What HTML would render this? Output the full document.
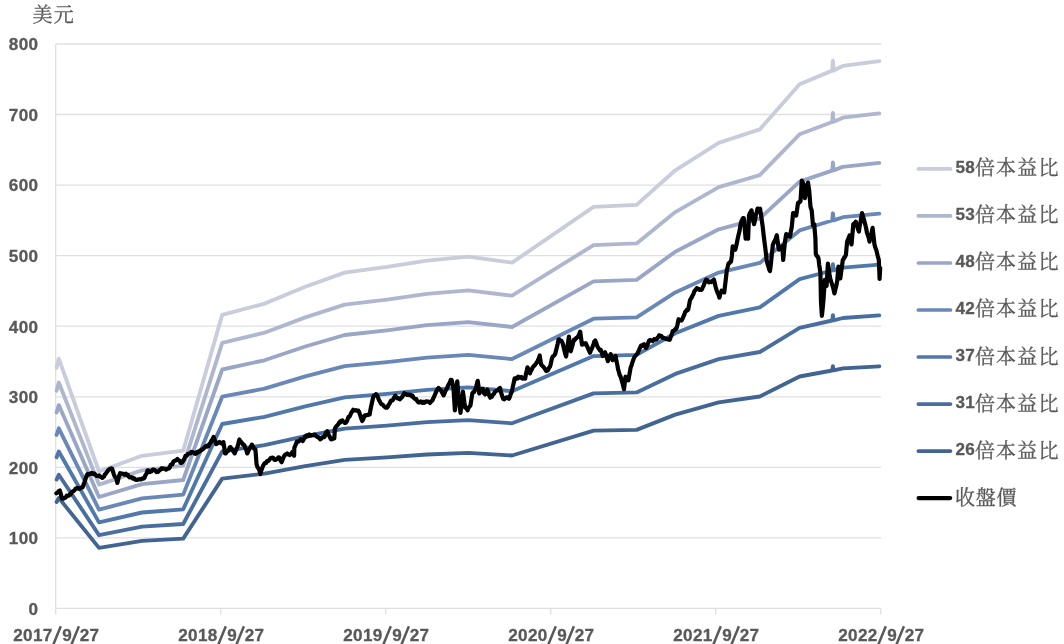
<!DOCTYPE html>
<html><head><meta charset="utf-8"><title>P/E band chart</title>
<style>
html,body{margin:0;padding:0;background:#fff;}
body{width:1064px;height:644px;overflow:hidden;position:relative;font-family:"Liberation Sans",sans-serif;}
</style></head><body>
<svg width="1064" height="644" viewBox="0 0 1064 644" style="position:absolute;left:0;top:0;will-change:transform;filter:blur(0.35px)">
<line x1="55.7" x2="881.2" y1="537.9" y2="537.9" stroke="#e0e0e0" stroke-width="1.3"/>
<line x1="55.7" x2="881.2" y1="467.3" y2="467.3" stroke="#e0e0e0" stroke-width="1.3"/>
<line x1="55.7" x2="881.2" y1="396.8" y2="396.8" stroke="#e0e0e0" stroke-width="1.3"/>
<line x1="55.7" x2="881.2" y1="326.2" y2="326.2" stroke="#e0e0e0" stroke-width="1.3"/>
<line x1="55.7" x2="881.2" y1="255.6" y2="255.6" stroke="#e0e0e0" stroke-width="1.3"/>
<line x1="55.7" x2="881.2" y1="185.1" y2="185.1" stroke="#e0e0e0" stroke-width="1.3"/>
<line x1="55.7" x2="881.2" y1="114.5" y2="114.5" stroke="#e0e0e0" stroke-width="1.3"/>
<line x1="55.7" x2="881.2" y1="44.0" y2="44.0" stroke="#e0e0e0" stroke-width="1.3"/>
<line x1="55.7" x2="55.7" y1="44.0" y2="608.4" stroke="#e0e0e0" stroke-width="1.3"/>
<line x1="55.7" x2="881.2" y1="608.4" y2="608.4" stroke="#e0e0e0" stroke-width="1.3"/>
<line x1="55.7" x2="55.7" y1="608.4" y2="614.6" stroke="#e0e0e0" stroke-width="1.3"/>
<line x1="220.7" x2="220.7" y1="608.4" y2="614.6" stroke="#e0e0e0" stroke-width="1.3"/>
<line x1="385.7" x2="385.7" y1="608.4" y2="614.6" stroke="#e0e0e0" stroke-width="1.3"/>
<line x1="550.7" x2="550.7" y1="608.4" y2="614.6" stroke="#e0e0e0" stroke-width="1.3"/>
<line x1="715.7" x2="715.7" y1="608.4" y2="614.6" stroke="#e0e0e0" stroke-width="1.3"/>
<line x1="880.7" x2="880.7" y1="608.4" y2="614.6" stroke="#e0e0e0" stroke-width="1.3"/>
<polyline points="56.6,367.8 58.8,358.7 99.0,471.5 142.0,455.8 183.2,450.7 222.2,314.9 264.5,303.6 305.3,286.7 344.7,272.6 387.0,266.9 427.0,260.6 468.3,256.7 512.0,262.7 593.6,206.8 636.6,204.9 675.3,170.3 718.7,142.8 759.8,129.4 799.6,84.2 832.2,70.6 832.9,60.6 833.6,70.5 842.9,65.9 879.3,61.1" fill="none" stroke="#c8ccdb" stroke-width="3.85" stroke-linejoin="round" stroke-linecap="round"/>
<polyline points="56.6,390.8 58.8,382.5 99.0,484.6 142.0,470.4 183.2,465.7 222.2,342.9 264.5,332.7 305.3,317.4 344.7,304.7 387.0,299.6 427.0,293.8 468.3,290.3 512.0,295.7 593.6,245.1 636.6,243.4 675.3,212.1 718.7,187.2 759.8,175.1 799.6,134.3 832.2,122.0 832.9,112.9 833.6,121.8 842.9,117.7 879.3,113.4" fill="none" stroke="#aeb7cf" stroke-width="3.85" stroke-linejoin="round" stroke-linecap="round"/>
<polyline points="56.6,412.5 58.8,405.1 99.0,497.0 142.0,484.2 183.2,480.0 222.2,369.5 264.5,360.3 305.3,346.5 344.7,335.0 387.0,330.4 427.0,325.2 468.3,322.1 512.0,327.0 593.6,281.4 636.6,279.9 675.3,251.7 718.7,229.3 759.8,218.4 799.6,181.6 832.2,170.6 832.9,162.4 833.6,170.4 842.9,166.8 879.3,162.9" fill="none" stroke="#9aa6c6" stroke-width="3.85" stroke-linejoin="round" stroke-linecap="round"/>
<polyline points="56.6,434.9 58.8,428.3 99.0,509.7 142.0,498.3 183.2,494.6 222.2,396.7 264.5,388.6 305.3,376.4 344.7,366.2 387.0,362.1 427.0,357.6 468.3,354.8 512.0,359.1 593.6,318.7 636.6,317.4 675.3,292.4 718.7,272.6 759.8,262.9 799.6,230.4 832.2,220.5 832.9,213.3 833.6,220.4 842.9,217.2 879.3,213.7" fill="none" stroke="#6988b7" stroke-width="3.85" stroke-linejoin="round" stroke-linecap="round"/>
<polyline points="56.6,457.3 58.8,451.5 99.0,522.4 142.0,512.5 183.2,509.3 222.2,424.0 264.5,416.9 305.3,406.3 344.7,397.4 387.0,393.9 427.0,389.9 468.3,387.4 512.0,391.2 593.6,356.1 636.6,354.9 675.3,333.2 718.7,315.9 759.8,307.4 799.6,279.1 832.2,270.5 832.9,264.2 833.6,270.4 842.9,267.6 879.3,264.6" fill="none" stroke="#5078ab" stroke-width="3.85" stroke-linejoin="round" stroke-linecap="round"/>
<polyline points="56.6,479.6 58.8,474.7 99.0,535.1 142.0,526.7 183.2,524.0 222.2,451.3 264.5,445.2 305.3,436.2 344.7,428.6 387.0,425.6 427.0,422.2 468.3,420.1 512.0,423.3 593.6,393.4 636.6,392.4 675.3,373.9 718.7,359.1 759.8,352.0 799.6,327.8 832.2,320.5 832.9,315.1 833.6,320.4 842.9,318.0 879.3,315.4" fill="none" stroke="#496d9e" stroke-width="3.85" stroke-linejoin="round" stroke-linecap="round"/>
<polyline points="56.6,502.0 58.8,497.9 99.0,547.9 142.0,540.9 183.2,538.6 222.2,478.6 264.5,473.6 305.3,466.1 344.7,459.8 387.0,457.3 427.0,454.5 468.3,452.8 512.0,455.5 593.6,430.7 636.6,429.9 675.3,414.6 718.7,402.4 759.8,396.5 799.6,376.5 832.2,370.5 832.9,366.1 833.6,370.4 842.9,368.4 879.3,366.3" fill="none" stroke="#426491" stroke-width="3.85" stroke-linejoin="round" stroke-linecap="round"/>
<polyline points="56.4,493.3 57.2,492.8 58.1,491.9 58.9,491.0 59.8,490.5 60.9,494.2 62.0,498.7 62.8,498.7 63.6,498.6 64.4,498.0 65.2,497.6 66.0,497.1 66.7,495.7 67.5,496.0 68.3,495.8 69.1,495.5 69.9,494.1 70.7,494.3 71.5,492.3 72.2,491.8 73.0,491.5 73.8,490.7 74.6,490.2 75.3,489.0 76.1,488.4 76.9,488.5 77.7,487.9 78.5,488.7 79.3,488.5 80.2,488.7 81.0,487.8 81.8,487.2 82.6,487.3 83.5,484.6 84.4,482.5 85.2,480.0 86.1,477.2 87.0,474.8 87.8,474.0 88.5,474.6 89.3,473.9 90.1,473.9 90.9,473.9 91.6,472.8 92.4,473.2 93.3,474.2 94.1,473.5 95.0,474.2 95.8,475.0 96.7,475.9 97.5,476.0 98.3,476.1 99.2,475.5 100.0,476.4 100.8,476.9 101.7,477.4 102.5,477.9 103.3,477.0 104.1,476.4 104.9,474.4 105.7,473.8 106.5,472.6 107.3,471.5 108.1,470.3 109.0,469.5 109.8,468.9 110.6,469.2 111.4,468.3 112.2,468.8 112.9,471.2 113.7,473.9 114.4,475.8 115.2,477.0 116.3,478.3 117.4,482.9 118.3,478.9 119.2,475.5 120.1,473.2 120.9,473.8 121.8,473.7 122.6,473.7 123.5,473.9 124.3,474.6 125.2,474.5 126.0,473.7 126.9,475.1 127.8,474.8 128.6,476.4 129.5,477.4 130.4,477.5 131.2,477.2 132.0,477.5 132.8,478.5 133.5,477.9 134.3,478.5 135.1,479.6 135.9,479.7 136.7,480.0 137.5,479.9 138.2,479.4 139.0,479.3 139.8,479.4 140.6,479.0 141.4,479.3 142.2,478.5 142.9,478.1 143.7,478.5 144.5,477.9 145.2,475.7 146.0,474.5 146.8,473.2 147.5,470.4 148.3,470.4 149.2,471.1 150.0,472.0 150.8,471.1 151.6,471.3 152.3,469.9 153.1,469.5 153.9,469.6 154.7,469.9 155.6,471.0 156.4,472.1 157.2,472.0 158.0,471.9 158.9,470.9 159.7,470.1 160.6,469.6 161.4,468.4 162.2,468.6 162.9,468.8 163.7,468.6 164.5,468.9 165.2,469.0 166.0,469.7 166.8,469.3 167.6,468.7 168.3,468.4 169.1,468.4 169.9,467.0 170.7,464.8 171.5,464.3 172.4,464.4 173.2,462.0 174.1,461.0 174.9,460.8 175.7,460.5 176.6,459.9 177.4,459.1 178.2,459.9 178.9,460.6 179.7,460.8 180.5,462.7 181.2,462.9 182.0,462.7 182.8,461.4 183.7,459.9 184.5,458.6 185.4,455.9 186.2,456.0 187.1,455.3 187.9,454.0 188.8,453.6 189.7,453.5 190.5,453.2 191.4,451.9 192.2,452.0 193.0,452.4 193.9,452.8 194.7,453.6 195.5,453.9 196.3,452.4 197.1,452.9 198.0,451.7 198.8,451.8 199.6,451.4 200.4,450.4 201.2,450.5 201.9,449.6 202.7,449.0 203.5,448.6 204.2,447.8 205.0,447.0 205.8,446.2 206.7,446.7 207.6,445.5 208.5,446.2 209.4,444.1 210.2,443.3 211.1,441.4 211.9,440.0 212.8,438.8 213.6,436.9 214.5,439.8 215.3,441.2 216.2,444.1 217.0,443.6 217.8,443.0 218.6,442.6 219.4,442.0 220.2,443.0 221.0,443.1 221.8,443.5 222.6,442.4 223.4,442.1 224.2,447.2 225.0,453.4 225.8,453.4 226.6,451.6 227.4,451.5 228.2,450.8 229.0,449.4 229.8,447.3 230.6,447.2 231.4,448.6 232.3,449.4 233.1,451.0 234.0,452.4 234.8,453.4 235.6,451.1 236.3,449.3 237.1,447.5 237.9,445.4 238.6,442.4 239.4,439.5 240.2,441.0 241.1,441.9 241.9,442.8 242.8,444.4 243.6,444.6 244.5,445.8 245.4,448.3 246.3,449.9 247.2,453.4 248.0,451.9 248.7,450.2 249.5,448.8 250.3,447.9 251.0,446.3 251.8,444.6 252.7,446.2 253.6,447.7 254.5,449.3 255.4,449.3 256.6,464.3 257.4,467.0 258.1,467.7 258.9,469.3 259.6,470.7 260.4,474.1 261.3,470.4 262.3,467.9 263.2,465.4 264.0,464.3 264.7,463.3 265.5,462.7 266.2,462.8 267.0,461.1 267.8,461.1 268.6,460.8 269.4,459.8 270.2,458.5 271.0,457.8 271.8,457.8 272.6,457.7 273.5,458.2 274.3,459.6 275.1,460.0 275.9,459.6 276.8,459.2 277.6,458.4 278.4,457.3 279.2,457.5 280.0,458.9 280.8,461.0 281.6,462.2 282.4,460.1 283.1,458.4 283.9,456.5 284.6,455.4 285.4,454.6 286.3,454.3 287.2,453.4 288.0,454.3 288.9,454.4 289.8,455.1 290.6,454.2 291.4,453.7 292.2,452.1 293.0,452.9 294.1,455.7 294.3,448.0 295.1,445.9 296.0,444.1 296.8,441.5 297.6,441.5 298.4,441.6 299.1,441.0 299.9,440.4 300.7,439.3 301.8,440.2 302.8,441.0 303.9,439.0 305.0,436.6 305.9,437.1 306.7,435.4 307.6,435.4 308.4,436.1 309.3,434.5 310.1,435.0 310.9,435.7 311.7,435.1 312.4,435.1 313.2,435.3 314.0,434.5 314.8,434.5 315.6,435.3 316.3,436.3 317.1,436.8 317.9,437.3 318.7,437.4 319.4,438.2 320.2,439.3 321.0,438.9 321.9,437.9 322.7,437.1 323.5,437.2 324.3,437.1 325.0,435.7 325.8,432.8 326.5,432.3 327.3,431.2 328.1,433.8 328.8,435.2 329.6,436.4 330.3,438.1 331.1,439.3 331.9,439.2 332.7,439.0 333.5,438.3 334.3,438.3 334.9,428.5 335.6,427.5 336.4,426.2 337.1,425.6 337.9,424.8 338.6,423.6 339.4,422.2 340.1,422.6 340.9,420.9 341.7,421.0 342.5,420.5 343.3,421.8 344.0,422.2 344.8,422.9 345.6,422.9 346.4,421.9 347.1,420.8 347.9,418.3 348.6,417.0 349.4,416.6 350.2,415.2 350.9,413.5 351.7,412.2 352.4,411.2 353.2,409.8 354.1,410.4 354.9,410.4 355.8,410.2 356.7,410.7 357.5,410.7 358.4,410.6 359.2,412.2 359.9,414.5 360.7,416.7 361.4,419.0 362.2,421.1 362.9,419.7 363.7,418.1 364.4,416.0 365.2,415.1 365.9,415.4 366.7,415.3 367.4,414.9 368.2,414.9 368.9,414.2 369.7,414.4 370.4,410.0 371.2,406.1 371.9,403.0 372.7,399.3 373.5,396.4 374.4,395.3 375.2,395.4 376.0,394.1 376.8,395.0 377.7,396.6 378.5,398.8 379.4,400.8 380.2,402.3 381.0,403.7 381.7,404.3 382.5,404.5 383.2,405.2 384.0,406.4 384.7,406.9 385.5,407.5 386.2,407.1 387.0,407.6 387.8,406.6 388.5,404.9 389.3,404.1 390.0,402.8 390.8,400.8 391.6,400.3 392.3,400.5 393.1,399.6 393.8,398.0 394.6,396.9 395.3,395.6 396.1,396.9 396.8,397.6 397.6,398.4 398.3,398.6 399.1,398.4 399.8,399.3 400.6,398.4 401.3,397.9 402.1,397.0 402.8,395.7 403.6,395.0 404.3,393.3 405.1,394.1 405.8,394.2 406.6,394.2 407.3,394.9 408.1,394.5 408.8,394.6 409.6,395.1 410.3,394.8 411.1,395.3 411.8,396.3 412.6,395.8 413.3,397.2 414.1,398.2 414.8,398.7 415.6,399.2 416.3,399.1 417.1,401.0 417.8,401.6 418.6,402.5 419.3,402.3 420.1,402.3 420.8,401.4 421.6,402.3 422.4,402.9 423.1,401.8 423.9,402.1 424.6,402.7 425.4,401.8 426.2,401.3 426.9,401.4 427.7,401.7 428.5,401.6 429.2,402.2 430.0,402.9 430.8,401.9 431.6,401.0 432.5,400.4 433.3,398.2 434.2,396.4 435.0,394.5 435.9,392.4 436.8,390.4 437.6,389.1 438.5,387.9 439.4,389.2 440.2,389.7 441.1,390.6 441.9,392.3 442.8,393.7 443.6,395.4 444.5,393.3 445.3,391.1 446.2,389.8 447.0,388.1 447.9,386.0 448.8,384.2 449.8,382.7 450.7,379.9 451.6,379.9 452.6,383.6 453.5,388.8 454.9,410.4 455.7,400.5 456.5,390.2 457.3,381.3 458.2,393.5 459.0,399.9 459.7,406.7 460.5,412.8 461.3,405.4 462.1,398.4 462.9,391.6 463.7,397.2 464.4,402.6 465.2,407.6 466.0,407.7 466.8,408.8 467.6,410.4 468.5,407.9 469.5,406.7 470.4,405.7 471.4,399.3 472.3,393.5 473.2,392.1 474.2,392.1 475.1,389.7 476.0,387.5 476.8,384.3 477.7,380.8 478.5,386.4 479.3,393.5 480.1,392.0 481.0,391.3 481.8,391.2 482.6,388.8 483.4,391.8 484.2,393.5 485.0,394.4 485.8,393.6 486.5,391.6 487.3,389.7 488.3,392.1 489.2,395.5 490.2,397.7 491.0,396.7 491.7,396.9 492.5,395.4 493.3,394.2 494.0,393.8 494.8,392.1 495.7,391.2 496.5,390.7 497.4,390.3 498.3,389.8 499.1,388.5 500.0,387.9 500.8,392.0 501.6,394.2 502.5,396.8 503.3,399.1 504.1,399.4 505.0,398.3 505.8,398.1 506.6,397.3 507.4,397.4 508.1,398.4 508.9,398.7 509.9,396.7 510.8,393.9 511.8,391.6 512.7,387.4 513.7,383.1 514.6,378.5 515.5,379.1 516.5,377.9 517.4,378.4 518.3,376.6 519.1,377.7 519.9,377.3 520.6,377.6 521.4,377.0 522.2,378.6 523.0,378.5 524.1,378.4 525.2,378.6 526.0,373.6 526.7,371.0 527.5,367.3 528.3,369.1 529.1,371.1 529.9,373.4 530.8,371.0 531.8,369.6 532.7,367.2 533.6,366.4 534.4,365.4 535.1,364.8 535.9,363.8 536.6,362.5 537.4,362.1 538.2,359.6 538.9,358.3 539.7,355.5 541.1,364.5 542.0,365.5 542.8,366.3 543.7,367.1 544.6,368.4 545.4,369.8 546.3,371.1 547.1,370.5 547.8,370.5 548.6,368.6 549.3,367.5 550.1,366.4 550.9,363.2 551.6,359.8 552.4,357.0 553.3,356.1 554.3,355.3 555.2,354.1 556.0,350.7 556.9,347.0 557.7,343.7 558.5,339.6 559.3,339.3 560.0,340.3 560.8,340.5 561.5,340.9 562.3,342.4 563.1,344.8 563.8,348.1 564.6,351.3 565.3,354.1 566.1,356.5 567.0,350.1 568.0,342.7 568.9,336.7 569.8,344.0 570.8,351.3 571.6,348.2 572.4,345.7 573.2,342.2 574.0,339.6 574.8,340.0 575.6,338.7 576.5,338.0 577.3,337.2 578.3,336.1 579.2,334.1 580.2,331.6 581.1,338.2 582.0,344.7 582.8,344.4 583.5,343.3 584.3,344.1 585.0,344.2 585.8,343.3 586.6,345.2 587.5,347.0 588.3,349.1 589.2,351.1 590.0,352.7 590.9,350.2 591.7,349.1 592.6,346.6 593.5,344.1 594.3,341.6 595.2,340.5 596.1,342.4 597.1,345.8 598.0,347.6 598.9,348.8 599.9,350.5 600.8,349.9 601.8,352.9 602.7,356.0 603.5,355.2 604.3,353.2 605.1,352.3 606.0,355.0 607.0,358.2 607.9,361.2 608.8,358.4 609.8,355.9 610.7,354.1 611.7,357.1 612.6,360.2 613.4,358.9 614.1,358.5 614.9,358.0 615.6,356.0 616.4,361.0 617.3,364.8 618.1,369.3 618.9,371.9 619.6,374.7 620.4,376.3 621.1,378.2 622.1,382.0 623.0,384.9 624.0,389.2 624.8,382.4 625.5,376.7 626.5,377.3 627.4,377.8 628.4,380.4 629.5,373.8 630.6,367.8 631.4,365.8 632.1,363.4 632.9,360.9 633.6,359.0 634.5,357.0 635.5,355.7 636.4,354.7 637.3,353.8 638.2,351.8 639.1,349.9 640.1,347.5 641.0,345.7 642.0,346.0 642.9,344.8 643.9,344.2 645.0,346.4 646.1,347.9 646.9,346.3 647.6,344.9 648.4,342.1 649.1,340.6 650.0,340.0 650.8,340.3 651.7,340.3 652.5,341.1 653.4,340.3 654.2,339.1 655.0,339.6 655.8,339.1 656.7,339.3 657.5,337.8 658.3,337.3 659.1,335.3 660.0,336.2 660.8,335.9 661.6,336.1 662.5,337.9 663.4,337.9 664.2,338.1 665.1,338.4 666.0,339.1 666.9,338.7 667.9,339.4 668.8,339.6 669.7,339.8 670.5,337.5 671.2,335.8 672.0,333.7 672.7,331.0 673.6,330.9 674.5,330.1 675.5,328.9 676.4,328.8 677.5,324.5 678.6,319.2 679.6,320.1 680.5,320.5 681.5,320.6 682.4,318.9 683.4,316.6 684.3,314.7 685.2,311.8 686.0,311.4 686.7,310.0 687.5,310.3 688.2,309.6 689.1,304.8 690.0,300.1 690.9,298.7 691.7,297.5 692.5,295.6 693.4,294.1 694.2,291.6 695.1,290.3 695.9,289.6 696.8,288.2 697.7,288.7 698.5,288.9 699.4,290.0 700.2,289.8 701.1,289.9 702.0,289.3 702.8,287.1 703.7,285.7 704.5,283.2 705.4,281.5 706.2,279.6 707.1,280.1 707.9,281.1 708.8,282.4 709.7,281.8 710.5,281.8 711.4,282.2 712.2,280.9 713.1,280.5 713.9,279.6 714.8,283.1 715.6,286.7 716.5,289.9 717.5,292.5 718.4,294.3 719.4,297.6 720.5,293.5 721.6,290.7 722.5,291.4 723.3,291.9 724.2,292.4 725.1,285.2 725.9,278.5 726.8,270.2 727.6,267.3 728.5,263.4 729.3,263.4 730.2,262.0 731.0,261.7 731.9,255.7 732.7,246.3 733.6,247.4 734.4,248.7 735.3,249.7 736.1,246.5 737.0,242.2 737.9,237.7 738.7,234.3 739.6,230.5 740.4,225.5 741.3,221.5 742.1,220.0 743.0,218.1 743.8,218.1 744.7,227.7 745.6,238.6 746.4,238.2 747.3,237.9 748.1,238.6 749.0,215.5 749.8,213.3 750.7,211.8 751.5,210.4 752.4,215.7 753.2,220.8 754.1,224.1 755.0,220.2 755.8,215.1 756.6,212.8 757.5,208.7 758.4,208.6 759.2,208.9 760.1,208.7 761.0,214.6 761.8,220.6 762.7,226.5 763.5,234.0 764.4,241.2 765.2,247.3 766.1,254.9 766.9,261.7 767.7,264.3 768.5,266.8 769.2,269.6 770.0,271.1 771.0,262.9 771.9,253.6 772.9,244.6 773.8,242.7 774.6,241.0 775.5,239.4 776.8,235.2 777.8,242.7 778.9,249.7 779.8,248.2 780.6,247.8 781.4,247.5 782.3,246.3 783.2,260.0 784.0,251.2 784.9,242.0 786.2,234.1 787.0,234.5 787.7,235.5 788.5,235.8 789.2,236.1 790.0,236.6 790.9,231.4 791.8,226.7 793.1,213.0 793.9,213.2 794.7,214.2 795.4,214.9 796.2,215.5 797.1,209.4 798.0,203.1 798.8,202.3 799.7,202.1 800.5,201.2 801.8,180.7 802.7,182.8 803.6,184.4 804.9,198.1 805.7,194.5 806.5,191.1 807.2,186.6 808.0,182.6 809.2,190.6 810.5,206.8 811.7,210.5 813.0,225.4 814.2,224.2 815.4,238.0 815.8,253.7 816.7,255.9 817.6,256.4 818.5,258.6 819.2,264.8 820.4,272.3 821.0,302.1 821.9,315.8 822.7,308.3 823.5,299.6 824.8,279.8 825.7,281.8 826.6,286.0 827.9,263.6 828.8,269.6 829.7,276.0 830.5,279.3 831.4,282.4 832.2,284.7 833.3,288.4 834.4,293.4 835.3,289.7 836.3,285.8 837.2,281.0 838.4,266.7 839.3,272.6 840.3,278.5 841.1,272.5 842.0,266.1 842.8,259.9 843.6,259.1 844.3,257.4 845.1,256.7 845.9,254.9 847.1,242.0 847.9,239.6 848.8,237.6 849.6,235.4 850.5,239.0 851.5,244.5 852.4,234.5 853.3,224.2 854.1,223.4 855.0,223.0 855.8,221.7 856.6,224.0 857.3,226.8 858.1,229.5 858.9,231.6 859.7,225.9 860.5,222.4 861.2,217.8 862.0,213.0 862.8,215.8 863.7,218.9 864.5,221.7 865.3,224.8 866.2,228.5 867.0,232.9 867.8,235.1 868.7,237.7 869.5,241.6 870.4,237.1 871.3,234.1 872.6,227.9 873.5,235.8 874.4,244.0 875.2,247.2 876.1,249.5 876.9,252.4 877.8,256.2 878.8,259.9 879.6,279.0 880.2,268.0" fill="none" stroke="#000000" stroke-width="4.2" stroke-linejoin="round" stroke-linecap="round"/>
<text x="38.3" y="614.7" text-anchor="end" font-family="Liberation Sans, sans-serif" font-weight="700" font-size="17.1" fill="#595959" stroke="#595959" stroke-width="0.3" letter-spacing="0.32" >0</text>
<text x="38.3" y="544.2" text-anchor="end" font-family="Liberation Sans, sans-serif" font-weight="700" font-size="17.1" fill="#595959" stroke="#595959" stroke-width="0.3" letter-spacing="0.32" >100</text>
<text x="38.3" y="473.6" text-anchor="end" font-family="Liberation Sans, sans-serif" font-weight="700" font-size="17.1" fill="#595959" stroke="#595959" stroke-width="0.3" letter-spacing="0.32" >200</text>
<text x="38.3" y="403.1" text-anchor="end" font-family="Liberation Sans, sans-serif" font-weight="700" font-size="17.1" fill="#595959" stroke="#595959" stroke-width="0.3" letter-spacing="0.32" >300</text>
<text x="38.3" y="332.5" text-anchor="end" font-family="Liberation Sans, sans-serif" font-weight="700" font-size="17.1" fill="#595959" stroke="#595959" stroke-width="0.3" letter-spacing="0.32" >400</text>
<text x="38.3" y="262.0" text-anchor="end" font-family="Liberation Sans, sans-serif" font-weight="700" font-size="17.1" fill="#595959" stroke="#595959" stroke-width="0.3" letter-spacing="0.32" >500</text>
<text x="38.3" y="191.4" text-anchor="end" font-family="Liberation Sans, sans-serif" font-weight="700" font-size="17.1" fill="#595959" stroke="#595959" stroke-width="0.3" letter-spacing="0.32" >600</text>
<text x="38.3" y="120.9" text-anchor="end" font-family="Liberation Sans, sans-serif" font-weight="700" font-size="17.1" fill="#595959" stroke="#595959" stroke-width="0.3" letter-spacing="0.32" >700</text>
<text x="38.3" y="50.3" text-anchor="end" font-family="Liberation Sans, sans-serif" font-weight="700" font-size="17.1" fill="#595959" stroke="#595959" stroke-width="0.3" letter-spacing="0.32" >800</text>
<text x="13.299999999999997" y="640.6" text-anchor="start" font-family="Liberation Sans, sans-serif" font-weight="700" font-size="17.1" fill="#595959" stroke="#595959" stroke-width="0.3" letter-spacing="0.32" >2017</text>
<text x="62.199999999999996" y="640.6" text-anchor="start" font-family="Liberation Sans, sans-serif" font-weight="700" font-size="17.1" fill="#595959" stroke="#595959" stroke-width="0.3" letter-spacing="0.32" >9</text>
<text x="79.8" y="640.6" text-anchor="start" font-family="Liberation Sans, sans-serif" font-weight="700" font-size="17.1" fill="#595959" stroke="#595959" stroke-width="0.3" letter-spacing="0.32" >27</text>
<line x1="60.80" y1="626.3" x2="52.33" y2="647.0" stroke="#595959" stroke-width="2.5"/>
<line x1="78.90" y1="626.3" x2="70.43" y2="647.0" stroke="#595959" stroke-width="2.5"/>
<text x="178.3" y="640.6" text-anchor="start" font-family="Liberation Sans, sans-serif" font-weight="700" font-size="17.1" fill="#595959" stroke="#595959" stroke-width="0.3" letter-spacing="0.32" >2018</text>
<text x="227.20000000000002" y="640.6" text-anchor="start" font-family="Liberation Sans, sans-serif" font-weight="700" font-size="17.1" fill="#595959" stroke="#595959" stroke-width="0.3" letter-spacing="0.32" >9</text>
<text x="244.8" y="640.6" text-anchor="start" font-family="Liberation Sans, sans-serif" font-weight="700" font-size="17.1" fill="#595959" stroke="#595959" stroke-width="0.3" letter-spacing="0.32" >27</text>
<line x1="225.80" y1="626.3" x2="217.33" y2="647.0" stroke="#595959" stroke-width="2.5"/>
<line x1="243.90" y1="626.3" x2="235.43" y2="647.0" stroke="#595959" stroke-width="2.5"/>
<text x="343.29999999999995" y="640.6" text-anchor="start" font-family="Liberation Sans, sans-serif" font-weight="700" font-size="17.1" fill="#595959" stroke="#595959" stroke-width="0.3" letter-spacing="0.32" >2019</text>
<text x="392.19999999999993" y="640.6" text-anchor="start" font-family="Liberation Sans, sans-serif" font-weight="700" font-size="17.1" fill="#595959" stroke="#595959" stroke-width="0.3" letter-spacing="0.32" >9</text>
<text x="409.79999999999995" y="640.6" text-anchor="start" font-family="Liberation Sans, sans-serif" font-weight="700" font-size="17.1" fill="#595959" stroke="#595959" stroke-width="0.3" letter-spacing="0.32" >27</text>
<line x1="390.80" y1="626.3" x2="382.33" y2="647.0" stroke="#595959" stroke-width="2.5"/>
<line x1="408.90" y1="626.3" x2="400.43" y2="647.0" stroke="#595959" stroke-width="2.5"/>
<text x="508.29999999999995" y="640.6" text-anchor="start" font-family="Liberation Sans, sans-serif" font-weight="700" font-size="17.1" fill="#595959" stroke="#595959" stroke-width="0.3" letter-spacing="0.32" >2020</text>
<text x="557.1999999999999" y="640.6" text-anchor="start" font-family="Liberation Sans, sans-serif" font-weight="700" font-size="17.1" fill="#595959" stroke="#595959" stroke-width="0.3" letter-spacing="0.32" >9</text>
<text x="574.8" y="640.6" text-anchor="start" font-family="Liberation Sans, sans-serif" font-weight="700" font-size="17.1" fill="#595959" stroke="#595959" stroke-width="0.3" letter-spacing="0.32" >27</text>
<line x1="555.80" y1="626.3" x2="547.33" y2="647.0" stroke="#595959" stroke-width="2.5"/>
<line x1="573.90" y1="626.3" x2="565.43" y2="647.0" stroke="#595959" stroke-width="2.5"/>
<text x="673.3" y="640.6" text-anchor="start" font-family="Liberation Sans, sans-serif" font-weight="700" font-size="17.1" fill="#595959" stroke="#595959" stroke-width="0.3" letter-spacing="0.32" >2021</text>
<text x="722.1999999999999" y="640.6" text-anchor="start" font-family="Liberation Sans, sans-serif" font-weight="700" font-size="17.1" fill="#595959" stroke="#595959" stroke-width="0.3" letter-spacing="0.32" >9</text>
<text x="739.8" y="640.6" text-anchor="start" font-family="Liberation Sans, sans-serif" font-weight="700" font-size="17.1" fill="#595959" stroke="#595959" stroke-width="0.3" letter-spacing="0.32" >27</text>
<line x1="720.80" y1="626.3" x2="712.33" y2="647.0" stroke="#595959" stroke-width="2.5"/>
<line x1="738.90" y1="626.3" x2="730.43" y2="647.0" stroke="#595959" stroke-width="2.5"/>
<text x="838.3" y="640.6" text-anchor="start" font-family="Liberation Sans, sans-serif" font-weight="700" font-size="17.1" fill="#595959" stroke="#595959" stroke-width="0.3" letter-spacing="0.32" >2022</text>
<text x="887.1999999999999" y="640.6" text-anchor="start" font-family="Liberation Sans, sans-serif" font-weight="700" font-size="17.1" fill="#595959" stroke="#595959" stroke-width="0.3" letter-spacing="0.32" >9</text>
<text x="904.8" y="640.6" text-anchor="start" font-family="Liberation Sans, sans-serif" font-weight="700" font-size="17.1" fill="#595959" stroke="#595959" stroke-width="0.3" letter-spacing="0.32" >27</text>
<line x1="885.80" y1="626.3" x2="877.33" y2="647.0" stroke="#595959" stroke-width="2.5"/>
<line x1="903.90" y1="626.3" x2="895.43" y2="647.0" stroke="#595959" stroke-width="2.5"/>
<text x="32.6" y="22.45" text-anchor="start" font-family="'Liberation Serif', 'Noto Serif CJK SC', serif" font-size="20" fill="#595959" stroke="#595959" stroke-width="0.3" letter-spacing="1.2">美元</text>
<line x1="918.35" x2="950.45" y1="168.9" y2="168.9" stroke="#c8ccdb" stroke-width="3.7" stroke-linecap="round"/>
<text x="955.4" y="173.2" text-anchor="start" font-family="Liberation Sans, sans-serif" font-weight="700" font-size="17.1" fill="#595959" stroke="#595959" stroke-width="0.3" letter-spacing="0.32" >58</text>
<text x="974.9" y="175.4" text-anchor="start" font-family="'Liberation Serif', 'Noto Serif CJK SC', serif" font-size="20" fill="#595959" stroke="#595959" stroke-width="0.3" letter-spacing="1.2">倍本益比</text>
<line x1="918.35" x2="950.45" y1="215.9" y2="215.9" stroke="#aeb7cf" stroke-width="3.7" stroke-linecap="round"/>
<text x="955.4" y="220.2" text-anchor="start" font-family="Liberation Sans, sans-serif" font-weight="700" font-size="17.1" fill="#595959" stroke="#595959" stroke-width="0.3" letter-spacing="0.32" >53</text>
<text x="974.9" y="222.43" text-anchor="start" font-family="'Liberation Serif', 'Noto Serif CJK SC', serif" font-size="20" fill="#595959" stroke="#595959" stroke-width="0.3" letter-spacing="1.2">倍本益比</text>
<line x1="918.35" x2="950.45" y1="263.0" y2="263.0" stroke="#9aa6c6" stroke-width="3.7" stroke-linecap="round"/>
<text x="955.4" y="267.3" text-anchor="start" font-family="Liberation Sans, sans-serif" font-weight="700" font-size="17.1" fill="#595959" stroke="#595959" stroke-width="0.3" letter-spacing="0.32" >48</text>
<text x="974.9" y="269.46" text-anchor="start" font-family="'Liberation Serif', 'Noto Serif CJK SC', serif" font-size="20" fill="#595959" stroke="#595959" stroke-width="0.3" letter-spacing="1.2">倍本益比</text>
<line x1="918.35" x2="950.45" y1="310.0" y2="310.0" stroke="#6988b7" stroke-width="3.7" stroke-linecap="round"/>
<text x="955.4" y="314.3" text-anchor="start" font-family="Liberation Sans, sans-serif" font-weight="700" font-size="17.1" fill="#595959" stroke="#595959" stroke-width="0.3" letter-spacing="0.32" >42</text>
<text x="974.9" y="316.49" text-anchor="start" font-family="'Liberation Serif', 'Noto Serif CJK SC', serif" font-size="20" fill="#595959" stroke="#595959" stroke-width="0.3" letter-spacing="1.2">倍本益比</text>
<line x1="918.35" x2="950.45" y1="357.0" y2="357.0" stroke="#5078ab" stroke-width="3.7" stroke-linecap="round"/>
<text x="955.4" y="361.3" text-anchor="start" font-family="Liberation Sans, sans-serif" font-weight="700" font-size="17.1" fill="#595959" stroke="#595959" stroke-width="0.3" letter-spacing="0.32" >37</text>
<text x="974.9" y="363.52" text-anchor="start" font-family="'Liberation Serif', 'Noto Serif CJK SC', serif" font-size="20" fill="#595959" stroke="#595959" stroke-width="0.3" letter-spacing="1.2">倍本益比</text>
<line x1="918.35" x2="950.45" y1="404.1" y2="404.1" stroke="#496d9e" stroke-width="3.7" stroke-linecap="round"/>
<text x="955.4" y="408.4" text-anchor="start" font-family="Liberation Sans, sans-serif" font-weight="700" font-size="17.1" fill="#595959" stroke="#595959" stroke-width="0.3" letter-spacing="0.32" >31</text>
<text x="974.9" y="410.55" text-anchor="start" font-family="'Liberation Serif', 'Noto Serif CJK SC', serif" font-size="20" fill="#595959" stroke="#595959" stroke-width="0.3" letter-spacing="1.2">倍本益比</text>
<line x1="918.35" x2="950.45" y1="451.1" y2="451.1" stroke="#426491" stroke-width="3.7" stroke-linecap="round"/>
<text x="955.4" y="455.4" text-anchor="start" font-family="Liberation Sans, sans-serif" font-weight="700" font-size="17.1" fill="#595959" stroke="#595959" stroke-width="0.3" letter-spacing="0.32" >26</text>
<text x="974.9" y="457.58" text-anchor="start" font-family="'Liberation Serif', 'Noto Serif CJK SC', serif" font-size="20" fill="#595959" stroke="#595959" stroke-width="0.3" letter-spacing="1.2">倍本益比</text>
<line x1="918.60" x2="950.20" y1="498.1" y2="498.1" stroke="#000000" stroke-width="4.2" stroke-linecap="round"/>
<text x="954.9" y="504.61" text-anchor="start" font-family="'Liberation Serif', 'Noto Serif CJK SC', serif" font-size="20" fill="#595959" stroke="#595959" stroke-width="0.3" letter-spacing="0.8">收盤價</text>
</svg>
</body></html>
